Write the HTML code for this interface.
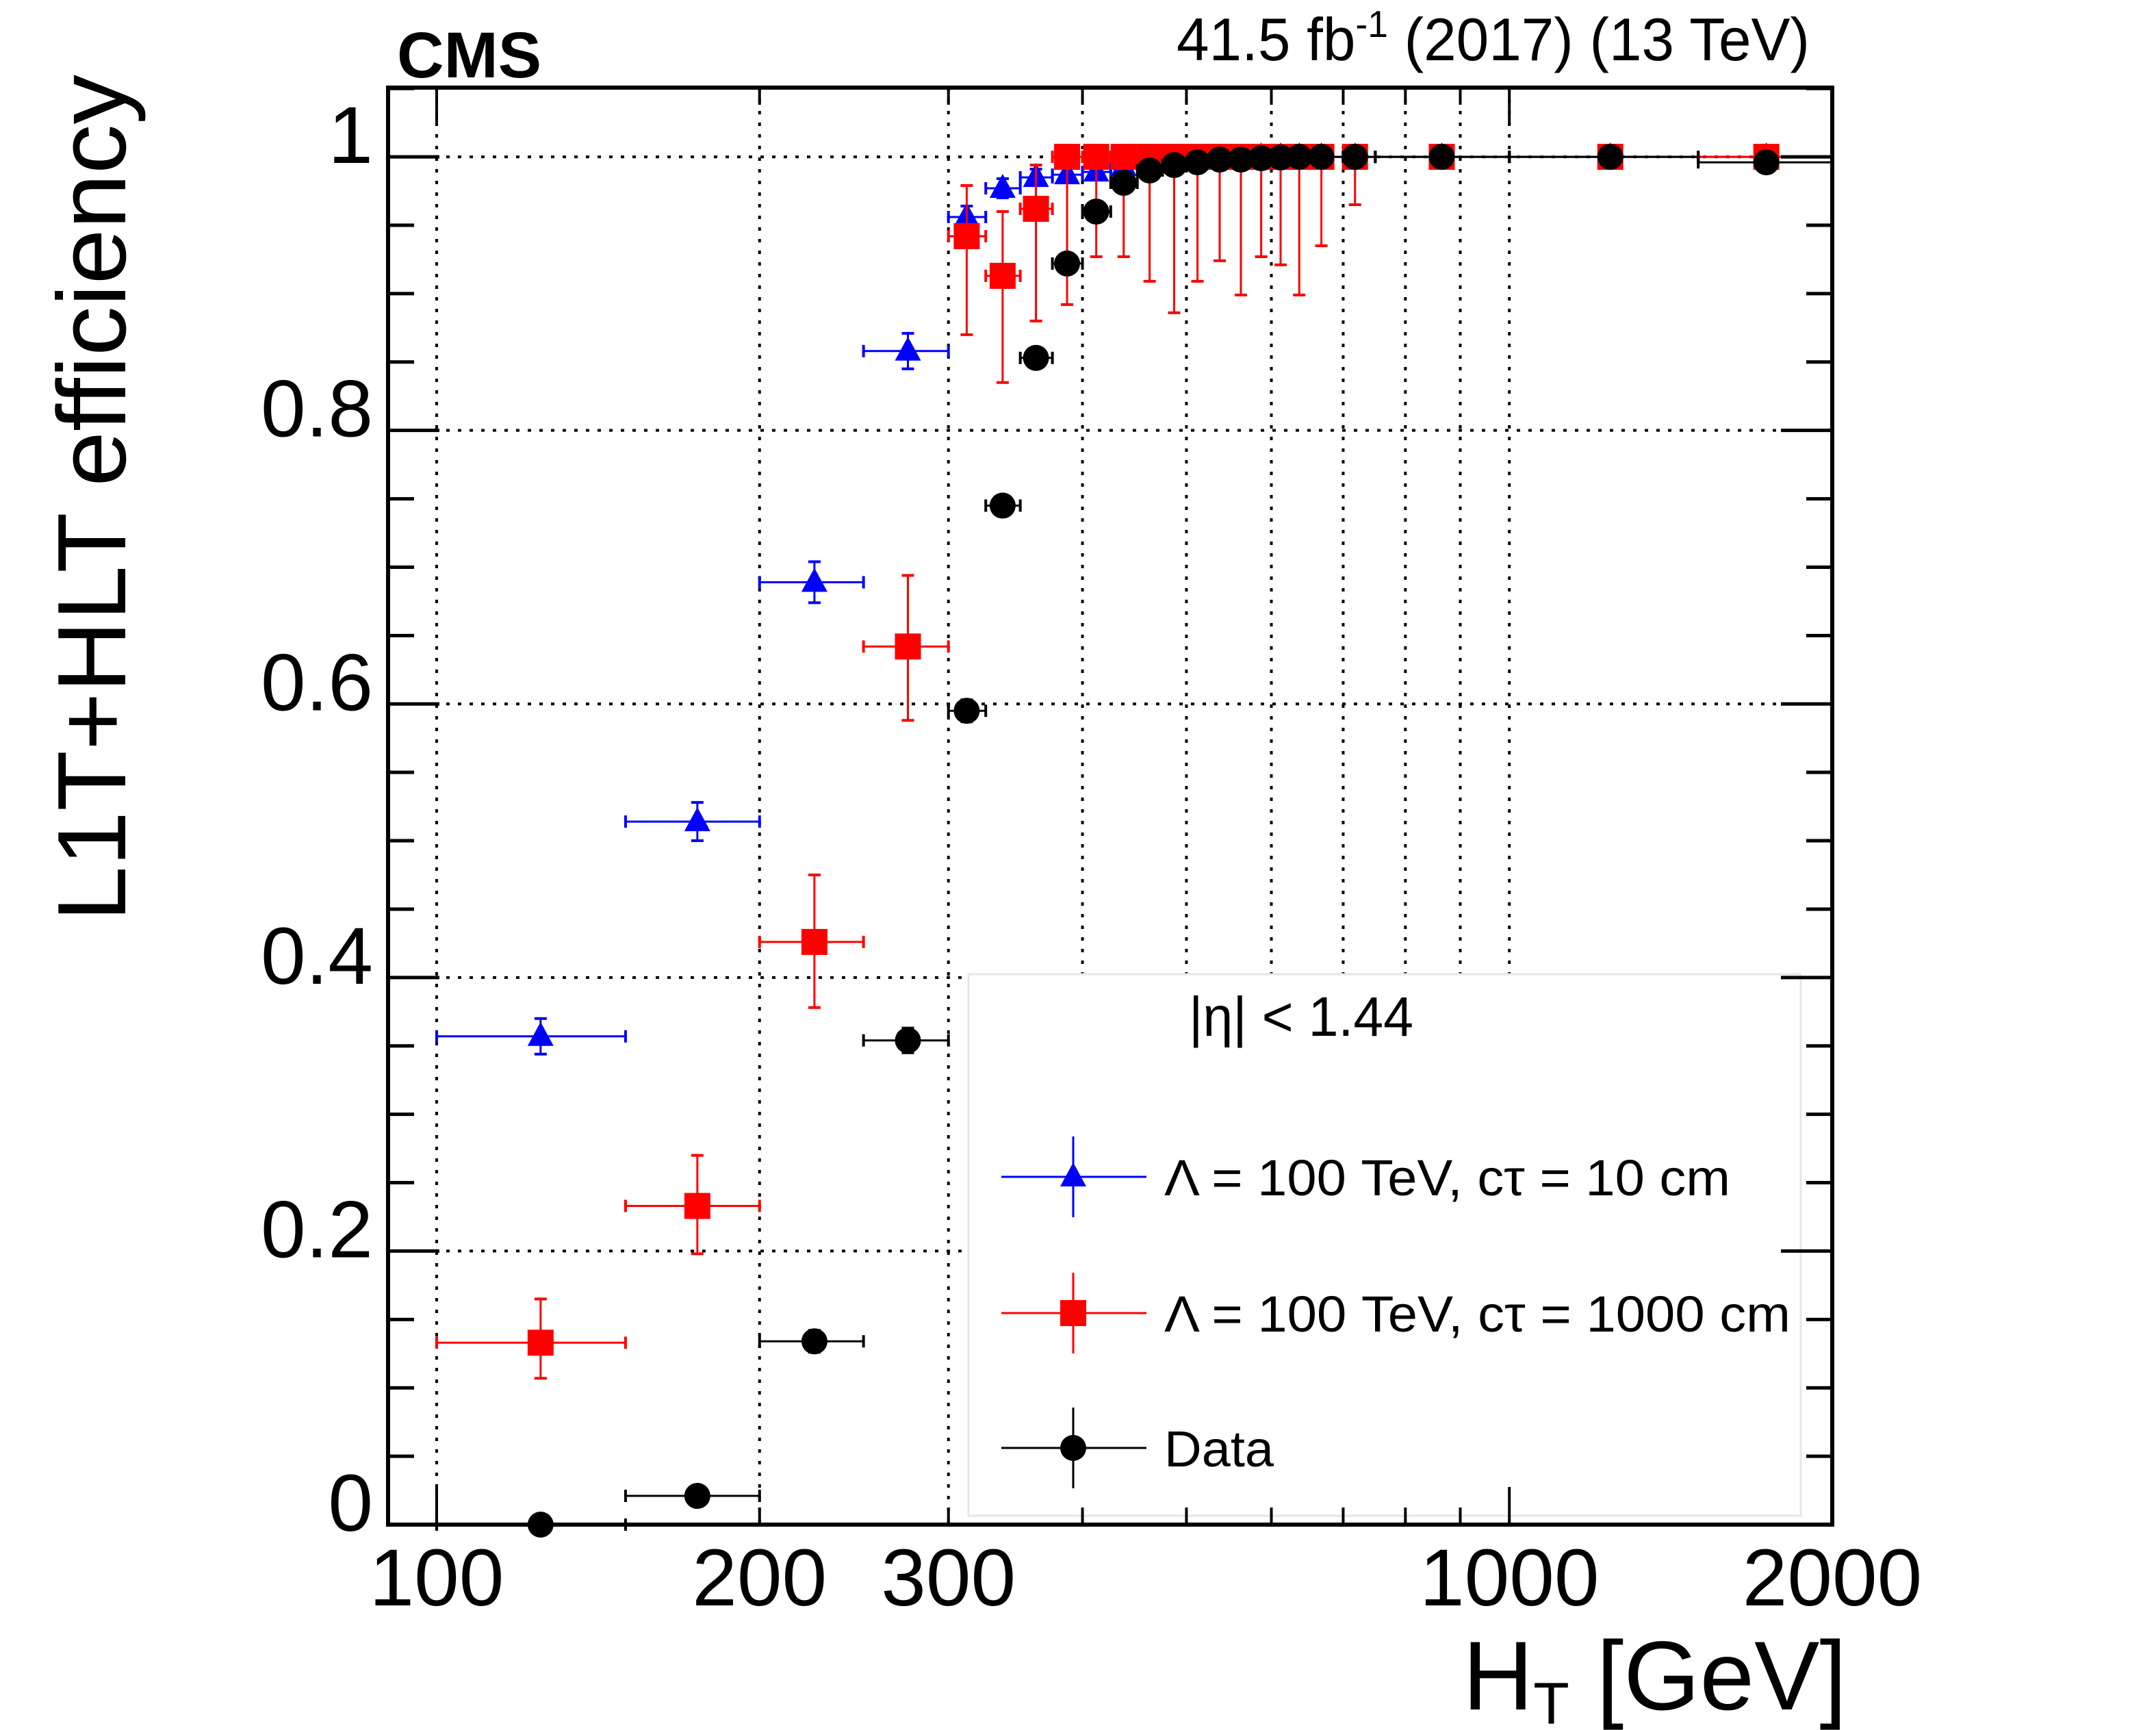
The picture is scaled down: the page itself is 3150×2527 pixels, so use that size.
<!DOCTYPE html>
<html><head><meta charset="utf-8"><style>
html,body{margin:0;padding:0;background:#fff}
svg{display:block}
text{font-family:"Liberation Sans",sans-serif}
</style></head><body>
<svg id="chart" width="3150" height="2527" viewBox="0 0 3150 2527" xmlns="http://www.w3.org/2000/svg">
<rect width="3150" height="2527" fill="#fff"/>
<g id="grid"></g>
<g id="marks"></g>
<g id="legend"></g>
<g id="axes"></g>
<text x="580" y="113" font-size="95" font-weight="bold">CMS</text>
<text x="1719" y="88" font-size="88" textLength="925" lengthAdjust="spacingAndGlyphs">41.5 fb<tspan font-size="55" dy="-34">-1</tspan><tspan dy="34"> (2017) (13 TeV)</tspan></text>
<text transform="translate(183,109) rotate(-90)" font-size="142" text-anchor="end" textLength="1237" lengthAdjust="spacingAndGlyphs">L1T+HLT efficiency</text>
<text x="2137" y="2497" font-size="143">H<tspan font-size="86" dy="21">T</tspan><tspan dy="-21"> [GeV]</tspan></text>
</svg>
<script>
const binEdges=[100,150,200,250,300,325,350,375,400,425,450,475,500,525,550,575,600,625,650,700,750,1000,1500,2000];
const binCenters=[125,175,225,275,312,337,362,387,412,437,462,487,512,537,562,587,612,637,668,718,865,1242,1736];
const blueVals=[0.357,0.514,0.689,0.858,0.956,0.977,0.985,0.987,0.989,0.993,0.996,0.997,0.998,0.998,0.999,1,1,1,1,1,1,1,1];
const blueErr=[0.013,0.014,0.015,0.013,0.008,0.007,0.006,0.005,0.004,0.003,0.003,0.002,0.002,0.002,0.001,0,0,0,0,0,0,0,0];
const redVals=[0.133,0.233,0.426,0.642,0.942,0.913,0.962,1,1,1,1,1,1,1,1,1,1,1,1,1,1,1,1];
const redErrUp=[0.032,0.037,0.049,0.052,0.037,0.047,0.032,0,0,0,0,0,0,0,0,0,0,0,0,0,0,0,0];
const redErrLo=[0.026,0.035,0.048,0.054,0.072,0.078,0.082,0.108,0.073,0.073,0.091,0.114,0.091,0.076,0.101,0.073,0.079,0.101,0.065,0.035,0,0,0];
const dataVals=[0.0,0.021,0.134,0.354,0.595,0.745,0.853,0.922,0.960,0.981,0.990,0.994,0.996,0.998,0.998,0.999,0.9995,1,1,1,1,1,0.996];
const dataErr=[0.004,0.005,0.008,0.009,0.008,0.007,0.006,0.005,0.004,0.003,0.002,0.002,0.002,0.001,0.001,0.001,0.001,0,0,0,0,0,0.006];
const yTicks=[0,0.2,0.4,0.6,0.8,1];
const yTickLabels=["0","0.2","0.4","0.6","0.8","1"];
const xLabelVals=[100,200,300,1000,2000];
const xLabelText=["100","200","300","1000","2000"];
const xGridVals=[100,200,300,400,500,600,700,800,900,1000];

const L=567,R=2677,T=128,B=2227;
const XMIN=90.1,XMAX=2000,YMIN=0,YMAX=1.0506;
const X=v=>L+(Math.log10(v)-Math.log10(XMIN))/(Math.log10(XMAX)-Math.log10(XMIN))*(R-L);
const Y=v=>B-(v-YMIN)/(YMAX-YMIN)*(B-T);
const NS="http://www.w3.org/2000/svg";
function mk(tag,parent,attrs){const e=document.createElementNS(NS,tag);for(const k in attrs)e.setAttribute(k,attrs[k]);parent.appendChild(e);return e;}
const grid=document.getElementById('grid'),marks=document.getElementById('marks'),axes=document.getElementById('axes'),legend=document.getElementById('legend');

xGridVals.forEach(v=>{const l=mk('line',grid,{x1:X(v),x2:X(v),y1:T,y2:B,stroke:'#000','stroke-width':4,'stroke-dasharray':'5 12'});

});
yTicks.slice(1).forEach(v=>{const l=mk('line',grid,{x1:L,x2:R,y1:Y(v),y2:Y(v),stroke:'#000','stroke-width':4,'stroke-dasharray':'5 12'});

});

function errbars(g,i,val,up,lo,color){
  const cx=X(binCenters[i]),cy=Y(val);
  mk('line',g,{x1:X(binEdges[i]),x2:X(binEdges[i+1]),y1:cy,y2:cy,stroke:color,'stroke-width':3});
  [X(binEdges[i]),X(binEdges[i+1])].forEach(x=>mk('line',g,{x1:x,x2:x,y1:cy-9,y2:cy+9,stroke:color,'stroke-width':4}));
  if(up>0){mk('line',g,{x1:cx,x2:cx,y1:cy,y2:Y(val+up),stroke:color,'stroke-width':3});mk('line',g,{x1:cx-9,x2:cx+9,y1:Y(val+up),y2:Y(val+up),stroke:color,'stroke-width':4});}
  if(lo>0){mk('line',g,{x1:cx,x2:cx,y1:cy,y2:Y(val-lo),stroke:color,'stroke-width':3});mk('line',g,{x1:cx-9,x2:cx+9,y1:Y(val-lo),y2:Y(val-lo),stroke:color,'stroke-width':4});}
}
function tri(g,cx,cy,c){return mk('polygon',g,{points:`${cx},${cy-21} ${cx-19},${cy+14} ${cx+19},${cy+14}`,fill:c});}
function sq(g,cx,cy,c){return mk('rect',g,{x:cx-19,y:cy-19,width:38,height:38,fill:c});}
function circ(g,cx,cy,c){return mk('circle',g,{cx:cx,cy:cy,r:19,fill:c});}

const gb=mk('g',marks,{});


blueVals.forEach((v,i)=>{errbars(gb,i,v,blueErr[i],blueErr[i],'#0000ff');const p=tri(gb,X(binCenters[i]),Y(v),'#0000ff');

});
const gr=mk('g',marks,{});


redVals.forEach((v,i)=>{errbars(gr,i,v,redErrUp[i],redErrLo[i],'#ff0000');const p=sq(gr,X(binCenters[i]),Y(v),'#ff0000');

});
const gd=mk('g',marks,{});


dataVals.forEach((v,i)=>{errbars(gd,i,v,dataErr[i],Math.min(dataErr[i],v),'#000');const p=circ(gd,X(binCenters[i]),Y(v),'#000');

});

const lb=mk('rect',legend,{x:1415,y:1423,width:1216,height:791,fill:'#fff',stroke:'#e6e6e6','stroke-width':3});


const lt=mk('text',legend,{x:1737,y:1513,'font-size':82,textLength:328,lengthAdjust:'spacingAndGlyphs'});lt.textContent='|η| < 1.44';


const entries=[['#0000ff',tri,'Λ = 100 TeV, cτ = 10 cm',827,1719],['#ff0000',sq,'Λ = 100 TeV, cτ = 1000 cm',915,1918],['#000',circ,'Data',160,2115]];
entries.forEach(([c,f,label,w,y])=>{const g=mk('g',legend,{});


mk('line',g,{x1:1463,x2:1675,y1:y,y2:y,stroke:c,'stroke-width':3});
mk('line',g,{x1:1568,x2:1568,y1:y-59,y2:y+59,stroke:c,'stroke-width':3});
f(g,1568,y,c);
const t=mk('text',g,{x:1701,y:y+27,'font-size':74,textLength:w,lengthAdjust:'spacingAndGlyphs'});t.textContent=label;});

const fr=mk('rect',axes,{x:L,y:T,width:R-L,height:B-T,fill:'none',stroke:'#000','stroke-width':6});


for(let k=0;k<=21;k++){const v=k*0.05;const major=k%4===0;const len=major?75:38;const y=Y(v);
mk('line',axes,{x1:L,x2:L+len,y1:y,y2:y,stroke:'#000','stroke-width':5});
mk('line',axes,{x1:R,x2:R-len,y1:y,y2:y,stroke:'#000','stroke-width':5});}
yTicks.forEach((v,i)=>{const t=mk('text',axes,{x:545,y:Y(v)+9,'font-size':118,'text-anchor':'end'});t.textContent=yTickLabels[i];

});
const xt=[100,200,300,400,500,600,700,800,900,1000,2000];
xt.forEach(v=>{const major=(v===100||v===1000);const len=major?55:25;const x=X(v);
mk('line',axes,{x1:x,x2:x,y1:B,y2:B-len,stroke:'#000','stroke-width':4});
mk('line',axes,{x1:x,x2:x,y1:T,y2:T+len,stroke:'#000','stroke-width':4});});
xLabelVals.forEach((v,i)=>{const t=mk('text',axes,{x:X(v),y:2345,'font-size':118,'text-anchor':'middle'});t.textContent=xLabelText[i];

});
</script>
</body></html>
